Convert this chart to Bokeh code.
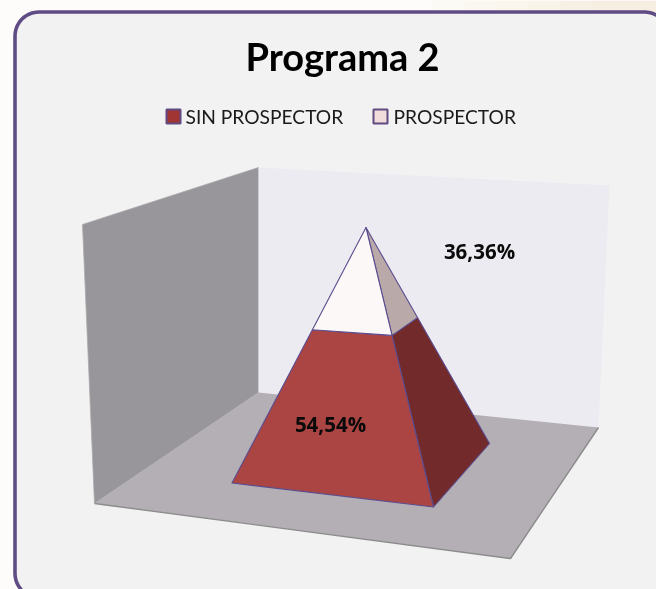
import numpy as np
from bokeh.core.properties import value
from bokeh.embed import file_html
from bokeh.models import Range1d
from bokeh.plotting import figure
from bokeh.resources import INLINE

# ---- chart data ----
title = "Programa 2"
categories = ["SIN PROSPECTOR", "PROSPECTOR"]
values = [54.54, 36.36]
labels = ["54,54%", "36,36%"]
colors_front = ["#ab4543", "#fdf8f8"]
colors_side = ["#722a2a", "#b9a9a9"]
legend_colors = ["#a03533", "#f2dcdb"]

# ---- scene geometry (screen space of the 3D projection) ----
wall_left_x = [82, 258, 258, 94]
wall_left_y = [224, 167, 392, 503]
wall_back_x = [258, 609, 598, 258]
wall_back_y = [167, 185, 427, 392]
floor_x = [94, 258, 598, 510]
floor_y = [503, 392, 427, 558]
apex = (365.5, 227.0)
base_fl = (231.5, 482.5)
base_fr = (433.0, 506.5)
base_br = (489.0, 443.0)
depth_w = {"fl": 1.0, "fr": 0.943, "br": 1.073}  # perspective weights, apex = 1

W, H = 656, 589
p = figure(width=W, height=H, output_backend="svg", toolbar_location=None,
           x_range=Range1d(0, W), y_range=Range1d(H, 0),
           min_border=0, outline_line_color=None,
           background_fill_color="#fdfcfa", border_fill_color="#fdfcfa")
p.styles = {"position": "fixed", "left": "0px", "top": "0px"}
p.xaxis.visible = False
p.yaxis.visible = False
p.grid.visible = False


def rounded(x0, y0, x1, y1, r, n=14):
    xs, ys = [], []
    for cx, cy, a0 in [(x1 - r, y0 + r, -90), (x1 - r, y1 - r, 0), (x0 + r, y1 - r, 90), (x0 + r, y0 + r, 180)]:
        a = np.radians(np.linspace(a0, a0 + 90, n))
        xs += list(cx + r * np.cos(a))
        ys += list(cy + r * np.sin(a))
    return xs, ys


# outer page tint, a faint cream toward the top right
tint = ["#fdfcfa", "#fcfaf5", "#fbf8f1", "#faf6ed", "#f9f4e9", "#f7f1e5", "#f6efe1", "#f6eee0"]
for i, c in enumerate(tint):
    p.quad(left=400 + i * 32, right=400 + (i + 1) * 32 + 1, top=0, bottom=30, fill_color=c, line_color=None)

# frame
fx, fy = rounded(14.5, 11.5, 668, 597, 24)
p.patch(fx, fy, fill_color="#f2f2f2", line_color="#604c84", line_width=3.6)

p.patch(wall_left_x, wall_left_y, fill_color="#98969a", line_color="#a9a8ab", line_width=0.8)
p.patch(wall_back_x, wall_back_y, fill_color="#edebf2", line_color=None)
p.patch(floor_x, floor_y, fill_color="#b3afb4", line_color=None)
p.line([floor_x[0], floor_x[3], floor_x[2]], [floor_y[0], floor_y[3], floor_y[2]], line_color="#8c8c8c", line_width=1.4)


def cut(base, w, frac):
    """Point on the edge base-apex at true height frac, with perspective weight w."""
    s = frac / ((1 - frac) * w + frac)
    return (base[0] + (apex[0] - base[0]) * s, base[1] + (apex[1] - base[1]) * s)


frac = values[0] / sum(values)
cl = cut(base_fl, depth_w["fl"], frac)
cm = cut(base_fr, depth_w["fr"], frac)
cr = cut(base_br, depth_w["br"], frac)
edge = "#5b4c8e"


def face(points, color):
    p.patch([q[0] for q in points], [q[1] for q in points], fill_color=color,
            line_color=edge, line_width=1.1, line_join="round")


face([base_fr, base_br, cr, cm], colors_side[0])
face([base_fl, base_fr, cm, cl], colors_front[0])
face([cm, cr, apex], colors_side[1])
face([cl, cm, apex], colors_front[1])

p.text([342], [55], text=[title], text_font=value("Lato"), text_font_size="38px", text_font_style="bold",
       text_color="#000000", text_align="center", text_baseline="middle")

# legend
legend_swatch_x = [173, 380]
legend_text_x = [185, 393]
p.scatter(legend_swatch_x, [116, 116], marker="square", size=14, fill_color=legend_colors,
          line_color="#5f4b82", line_width=2)
p.text(legend_text_x, [116, 116], text=categories, text_font=value("Lato"), text_font_size="19.2px",
       text_color="#1a1a1a", text_align="left", text_baseline="middle")

# data labels
label_x = [330, 479]
label_y = [423, 250]
p.text(label_x, label_y, text=labels, text_font=value("Open Sans"), text_font_size="20.5px", text_font_style="bold",
       text_color="#0a0a0a", text_align="center", text_baseline="middle")

open("out.html", "w").write(file_html(p, INLINE))
